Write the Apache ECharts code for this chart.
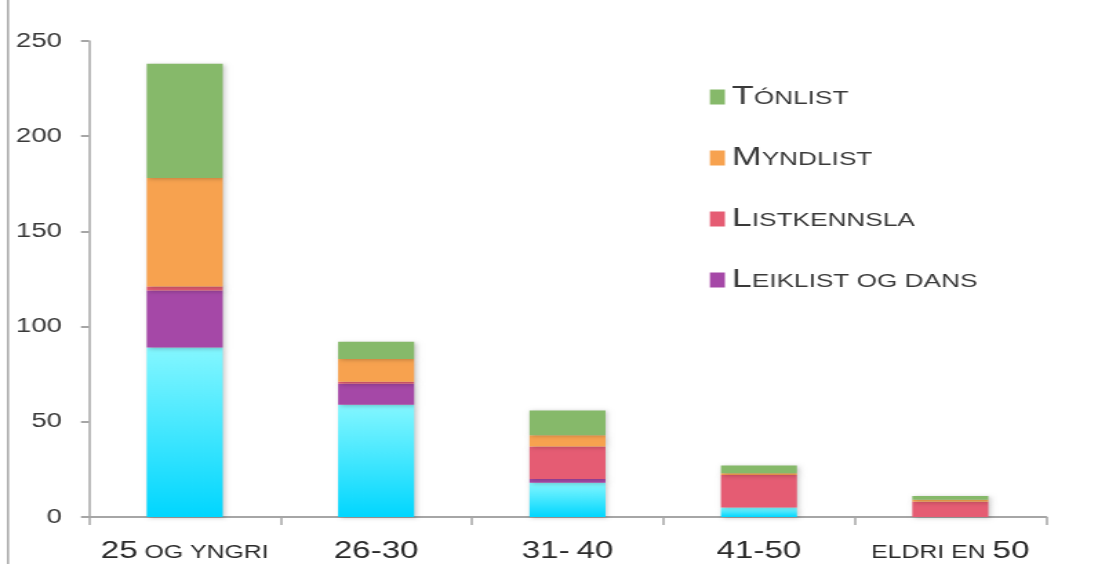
<!DOCTYPE html>
<html>
<head>
<meta charset="utf-8">
<script src="https://cdn.jsdelivr.net/npm/echarts@6/dist/echarts.min.js"></script>
<style>
html, body { margin: 0; padding: 0; background: #fff; overflow: hidden; }
/* the reference is stretched sideways, so the chart is drawn narrow and widened */
#chart { width: 796px; height: 564px; transform: scaleX(1.3794); transform-origin: 0 0; }
</style>
</head>
<body>
<div id="chart"></div>
<script>
// aldursbólkar
var categories = ['25 og yngri', '26-30', '31- 40', '41-50', 'eldri en 50'];
// virði, frá botni og upp
var annadData = [89, 59, 18, 5, 0];
var leiklistData = [30, 11, 2, 0, 0];
var listkennslaData = [2, 1, 17, 17, 8];
var myndlistData = [57, 12, 6, 1, 1];
var tonlistData = [60, 9, 13, 4, 2];
var yTicks = [0, 50, 100, 150, 200, 250];

var sx = 1098 / 796;

// smáir stórstavir: tøl og fyrsti stavur stórir, hinir smáir
function smallCaps(txt, firstBig) {
	var words = txt.split(' ');
	var out = [];
	for (var i = 0; i < words.length; i++) {
		var w = words[i];
		if (/^[0-9]/.test(w)) {
			out.push('{big|' + w + '}');
		} else if (i == 0 && firstBig) {
			out.push('{big|' + w.charAt(0).toUpperCase() + '}{sm|' + w.substring(1).toUpperCase() + '}');
		} else {
			out.push('{sm|' + w.toUpperCase() + '}');
		}
	}
	return out.join('{sm| }');
}

function barSeries(name, data, color) {
	return {
		name: name,
		type: 'bar',
		stack: 'total',
		barWidth: 76 / sx,
		data: data,
		itemStyle: {
			color: color,
			shadowBlur: 4,
			shadowOffsetX: 1.5,
			shadowOffsetY: 1,
			shadowColor: 'rgba(0,0,0,0.22)'
		}
	};
}

var cyan = {
	type: 'linear', x: 0, y: 0, x2: 0, y2: 1,
	colorStops: [{ offset: 0, color: '#84F7FF' }, { offset: 1, color: '#00D6FE' }]
};

var option = {
	backgroundColor: '#ffffff',
	animation: false,
	grid: { left: 89 / sx, right: 52 / sx, top: 41, bottom: 47 },
	legend: {
		data: ['Tónlist', 'Myndlist', 'Listkennsla', 'Leiklist og dans'],
		orient: 'vertical',
		left: 703 / sx,
		top: 77,
		itemWidth: 15 / sx,
		itemHeight: 15,
		itemGap: 31,
		icon: 'rect',
		formatter: function (name) { return smallCaps(name, true); },
		textStyle: {
			color: '#3a3a3a',
			fontFamily: 'Liberation Sans',
			lineHeight: 30,
			rich: {
				big: { fontSize: 26, color: '#3a3a3a', fontFamily: 'Liberation Sans', lineHeight: 30 },
				sm: { fontSize: 19, color: '#3a3a3a', fontFamily: 'Liberation Sans', lineHeight: 30, padding: [3, 0, 0, 0] }
			}
		}
	},
	xAxis: {
		type: 'category',
		data: categories,
		axisLine: { lineStyle: { color: '#A6A6A6', width: 2 } },
		axisTick: { show: true, interval: 0, length: 8, lineStyle: { color: '#A6A6A6', width: 1.5 } },
		axisLabel: {
			interval: 0,
			margin: 22,
			formatter: function (v) { return smallCaps(v, false); },
			rich: {
				big: { fontSize: 24, color: '#2a2a2a', fontFamily: 'Liberation Sans' },
				sm: { fontSize: 18, color: '#2a2a2a', fontFamily: 'Liberation Sans', padding: [4, 0, 0, 0] }
			}
		}
	},
	yAxis: {
		type: 'value',
		min: yTicks[0],
		max: yTicks[yTicks.length - 1],
		interval: 50,
		splitLine: { show: false },
		axisLine: { show: true, lineStyle: { color: '#A6A6A6', width: 1.5 } },
		axisTick: { show: true, length: 8 / sx, lineStyle: { color: '#A6A6A6', width: 2 } },
		axisLabel: { margin: 27 / sx, fontSize: 20, color: '#3a3a3a', fontFamily: 'Liberation Sans' }
	},
	graphic: [{
		type: 'line',
		shape: { x1: 8 / sx, y1: 0, x2: 8 / sx, y2: 564 },
		style: { stroke: '#A6A6A6', lineWidth: 1.5 }
	}],
	series: [
		barSeries('Annað', annadData, cyan),
		barSeries('Leiklist og dans', leiklistData, '#A548A7'),
		barSeries('Listkennsla', listkennslaData, '#E55C73'),
		barSeries('Myndlist', myndlistData, '#F7A24F'),
		barSeries('Tónlist', tonlistData, '#86B96A')
	]
};

var myChart = echarts.init(document.getElementById('chart'));
myChart.setOption(option, true);
</script>
</body>
</html>
